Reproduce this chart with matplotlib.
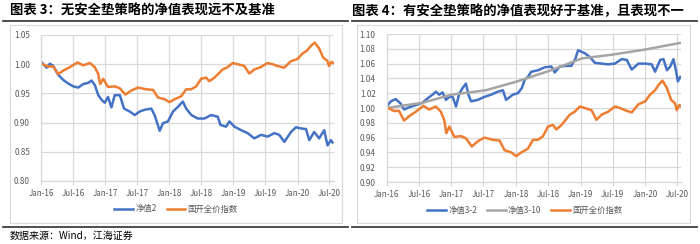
import numpy as np
import matplotlib
matplotlib.use("Agg")
import matplotlib.pyplot as plt
import matplotlib.dates as mdates
from matplotlib.lines import Line2D
from matplotlib.patches import Rectangle

plt.rcParams["font.family"] = ["Noto Sans CJK SC", "DejaVu Sans"]

# ---- data ----
# 国开全价指数 (same series in both panels)
bond_dates = ["2016-01-01", "2016-02-11", "2016-03-11", "2016-04-08", "2016-05-07",
              "2016-06-14", "2016-07-27", "2016-08-28", "2016-10-05", "2016-11-02",
              "2016-11-21", "2016-12-03", "2016-12-20", "2017-01-17", "2017-02-24",
              "2017-03-24", "2017-04-26", "2017-05-30", "2017-07-06", "2017-08-23",
              "2017-09-30", "2017-10-28", "2017-12-05", "2018-01-02", "2018-01-31",
              "2018-03-09", "2018-04-07", "2018-05-05", "2018-06-03", "2018-07-01",
              "2018-07-29", "2018-08-17", "2018-09-15", "2018-11-01", "2018-11-29",
              "2018-12-28", "2019-01-25", "2019-03-04", "2019-04-01", "2019-04-30",
              "2019-06-06", "2019-07-14", "2019-08-12", "2019-09-09", "2019-10-17",
              "2019-11-24", "2020-01-01", "2020-01-29", "2020-02-26", "2020-03-16",
              "2020-04-08", "2020-05-03", "2020-05-27", "2020-06-19", "2020-06-28",
              "2020-07-12", "2020-07-23"]
bond_vals = [1.001, 0.996, 0.996, 0.983, 0.989,
             0.995, 1.003, 0.998, 1.002, 0.995,
             0.984, 0.966, 0.975, 0.961, 0.962,
             0.959, 0.948, 0.955, 0.960, 0.957,
             0.956, 0.943, 0.940, 0.935, 0.940,
             0.945, 0.957, 0.957, 0.962, 0.975,
             0.977, 0.971, 0.977, 0.991, 0.995,
             1.002, 1.000, 0.997, 0.984, 0.991,
             0.995, 1.002, 1.000, 0.997, 0.994,
             1.005, 1.009, 1.018, 1.024, 1.031,
             1.037, 1.027, 1.011, 1.006, 0.997,
             1.004, 1.002]

# 净值2 (left panel)
nav2_dates = ["2016-01-01", "2016-01-14", "2016-02-02", "2016-02-21", "2016-03-11",
              "2016-04-08", "2016-05-07", "2016-06-04", "2016-07-03", "2016-07-31",
              "2016-08-28", "2016-09-26", "2016-10-15", "2016-11-03", "2016-11-22",
              "2016-12-11", "2016-12-29", "2017-01-17", "2017-02-05", "2017-02-24",
              "2017-03-25", "2017-04-18", "2017-05-20", "2017-06-18", "2017-07-16",
              "2017-08-14", "2017-09-20", "2017-10-09", "2017-11-07", "2017-11-26",
              "2017-12-24", "2018-01-22", "2018-02-19", "2018-03-19", "2018-04-07",
              "2018-05-06", "2018-06-12", "2018-07-20", "2018-08-27", "2018-10-04",
              "2018-10-19", "2018-11-20", "2018-12-09", "2019-01-07", "2019-02-14",
              "2019-03-23", "2019-04-30", "2019-06-07", "2019-07-15", "2019-08-22",
              "2019-09-19", "2019-10-18", "2019-11-25", "2019-12-23", "2020-01-20",
              "2020-02-18", "2020-03-08", "2020-04-05", "2020-05-03", "2020-06-01",
              "2020-06-20", "2020-07-09", "2020-07-18"]
nav2_vals = [1.004, 1.000, 0.994, 1.001, 0.997,
             0.982, 0.973, 0.967, 0.962, 0.960,
             0.966, 0.968, 0.972, 0.964, 0.947,
             0.939, 0.934, 0.944, 0.926, 0.947,
             0.947, 0.924, 0.919, 0.913, 0.919,
             0.922, 0.924, 0.913, 0.886, 0.899,
             0.902, 0.919, 0.927, 0.936, 0.924,
             0.913, 0.907, 0.907, 0.913, 0.910,
             0.896, 0.893, 0.902, 0.893, 0.887,
             0.882, 0.873, 0.879, 0.876, 0.882,
             0.879, 0.867, 0.884, 0.892, 0.890,
             0.889, 0.870, 0.884, 0.873, 0.887,
             0.861, 0.870, 0.866]

# 净值3-2 (right panel)
nav32_dates = ["2016-01-01", "2016-01-24", "2016-02-21", "2016-03-20", "2016-04-08",
               "2016-05-07", "2016-06-14", "2016-07-21", "2016-08-19", "2016-09-16",
               "2016-10-05", "2016-10-24", "2016-11-12", "2016-12-01", "2016-12-20",
               "2017-01-08", "2017-01-27", "2017-02-15", "2017-03-05", "2017-03-24",
               "2017-04-07", "2017-04-22", "2017-05-30", "2017-07-06", "2017-08-13",
               "2017-09-20", "2017-10-19", "2017-11-06", "2017-12-14", "2018-01-12",
               "2018-02-03", "2018-02-19", "2018-03-09", "2018-03-28", "2018-05-05",
               "2018-06-12", "2018-07-20", "2018-08-08", "2018-09-05", "2018-10-13",
               "2018-11-10", "2018-12-03", "2018-12-18", "2019-01-06", "2019-01-25",
               "2019-02-22", "2019-03-23", "2019-04-30", "2019-06-06", "2019-07-14",
               "2019-08-21", "2019-09-19", "2019-10-17", "2019-11-24", "2020-01-01",
               "2020-02-07", "2020-02-26", "2020-03-26", "2020-04-14", "2020-05-03",
               "2020-05-22", "2020-06-09", "2020-06-23", "2020-07-04", "2020-07-18"]
nav32_vals = [1.002, 1.009, 1.012, 1.006, 0.998,
              1.001, 1.004, 1.007, 1.013, 1.018,
              1.022, 1.018, 1.021, 1.011, 1.015,
              1.015, 1.002, 1.020, 1.027, 1.033,
              1.018, 1.009, 1.011, 1.015, 1.018,
              1.022, 1.024, 1.011, 1.018, 1.020,
              1.027, 1.038, 1.042, 1.049, 1.051,
              1.055, 1.056, 1.048, 1.056, 1.057,
              1.057, 1.067, 1.078, 1.076, 1.074,
              1.069, 1.061, 1.060, 1.059, 1.060,
              1.066, 1.065, 1.052, 1.060, 1.060,
              1.059, 1.049, 1.065, 1.066, 1.051,
              1.056, 1.066, 1.051, 1.036, 1.042]

# 净值3-10 (right panel)
nav310_dates = ["2016-01-01", "2016-07-20", "2017-01-02", "2017-07-15", "2018-01-09",
                "2018-07-18", "2019-01-07", "2019-06-26", "2020-01-01", "2020-07-18"]
nav310_vals = [1.000, 1.007, 1.018, 1.024, 1.036,
               1.051, 1.067, 1.072, 1.079, 1.088]

tick_dates = ["2016-01-01", "2016-07-01", "2017-01-01", "2017-07-01", "2018-01-01",
              "2018-07-01", "2019-01-01", "2019-07-01", "2020-01-01", "2020-07-01"]

BLUE = "#4472C4"
ORANGE = "#ED7D31"
GRAY = "#A5A5A5"
GRID = "#d9d9d9"
TXT = "#595959"
LW = 1.8


def d(lst):
    return np.array(lst, dtype="datetime64[D]")


def style_axes(ax, yticks):
    ax.set_xlim(np.datetime64("2016-01-01"), np.datetime64("2020-07-24"))
    ax.set_ylim(yticks[0], yticks[-1])
    ax.set_yticks(yticks)
    ax.set_xticks(d(tick_dates))
    ax.xaxis.set_major_formatter(mdates.DateFormatter("%b-%y"))
    ax.yaxis.set_major_formatter(matplotlib.ticker.FormatStrFormatter("%.2f"))
    ax.grid(True, color=GRID, lw=0.9)
    ax.set_axisbelow(True)
    for s in ["top", "right"]:
        ax.spines[s].set_visible(False)
    for s in ["left", "bottom"]:
        ax.spines[s].set_color(GRID)
        ax.spines[s].set_linewidth(0.9)
    ax.tick_params(axis="x", direction="out", length=3, width=0.9, color=GRID,
                   labelsize=5.8, labelcolor=TXT, pad=2.5)
    ax.tick_params(axis="y", length=0, labelsize=5.8, labelcolor=TXT, pad=8)


fig = plt.figure(figsize=(7, 2.44), dpi=100)
W, H = 700.0, 244.0

# chart frames and rules
for x0, x1 in [(10, 342), (357, 690)]:
    fig.add_artist(Rectangle((x0 / W, 1 - 223 / H), (x1 - x0) / W, 198 / H,
                             transform=fig.transFigure, fill=False,
                             edgecolor=GRID, lw=0.8))
for x0, x1 in [(3, 348), (352, 697)]:
    fig.add_artist(Line2D([x0 / W, x1 / W], [1 - 20.5 / H] * 2, color="#404040", lw=1.3))
    fig.add_artist(Line2D([x0 / W, x1 / W], [1 - 227 / H] * 2, color="#404040", lw=1.3))

fig.text(10 / W, 1 - 11 / H, "图表 3：无安全垫策略的净值表现远不及基准",
         fontsize=9.6, fontweight="bold", va="center", ha="left")
fig.text(352 / W, 1 - 11 / H, "图表 4：有安全垫策略的净值表现好于基准，且表现不一",
         fontsize=9.6, fontweight="bold", va="center", ha="left")
fig.text(10 / W, 1 - 236 / H, "数据来源：Wind，江海证券", fontsize=7.2,
         va="center", ha="left")

# left panel
ax1 = fig.add_axes([41 / W, 1 - 181 / H, (333.5 - 41) / W, 146 / H])
ax1.plot(d(nav2_dates), nav2_vals, color=BLUE, lw=LW, label="净值2")
ax1.plot(d(bond_dates), bond_vals, color=ORANGE, lw=LW, label="国开全价指数")
style_axes(ax1, [0.80, 0.85, 0.90, 0.95, 1.00, 1.05])
ax1.legend(loc="center", bbox_to_anchor=(176 / W, 1 - 209 / H),
           bbox_transform=fig.transFigure, ncol=2, frameon=False,
           fontsize=6, labelcolor=TXT, handlelength=2.2, handletextpad=0.3,
           columnspacing=1.2)

# right panel
ax2 = fig.add_axes([386.7 / W, 1 - 182 / H, (681.4 - 386.7) / W, 148 / H])
ax2.plot(d(nav32_dates), nav32_vals, color=BLUE, lw=LW, label="净值3-2")
ax2.plot(d(nav310_dates), nav310_vals, color=GRAY, lw=LW, label="净值3-10")
ax2.plot(d(bond_dates), bond_vals, color=ORANGE, lw=LW, label="国开全价指数")
style_axes(ax2, [0.90, 0.92, 0.94, 0.96, 0.98, 1.00, 1.02, 1.04, 1.06, 1.08, 1.10])
ax2.legend(loc="center", bbox_to_anchor=(525 / W, 1 - 210 / H),
           bbox_transform=fig.transFigure, ncol=3, frameon=False,
           fontsize=6, labelcolor=TXT, handlelength=2.2, handletextpad=0.3,
           columnspacing=1.2)

fig.savefig("out.png", dpi=100)
